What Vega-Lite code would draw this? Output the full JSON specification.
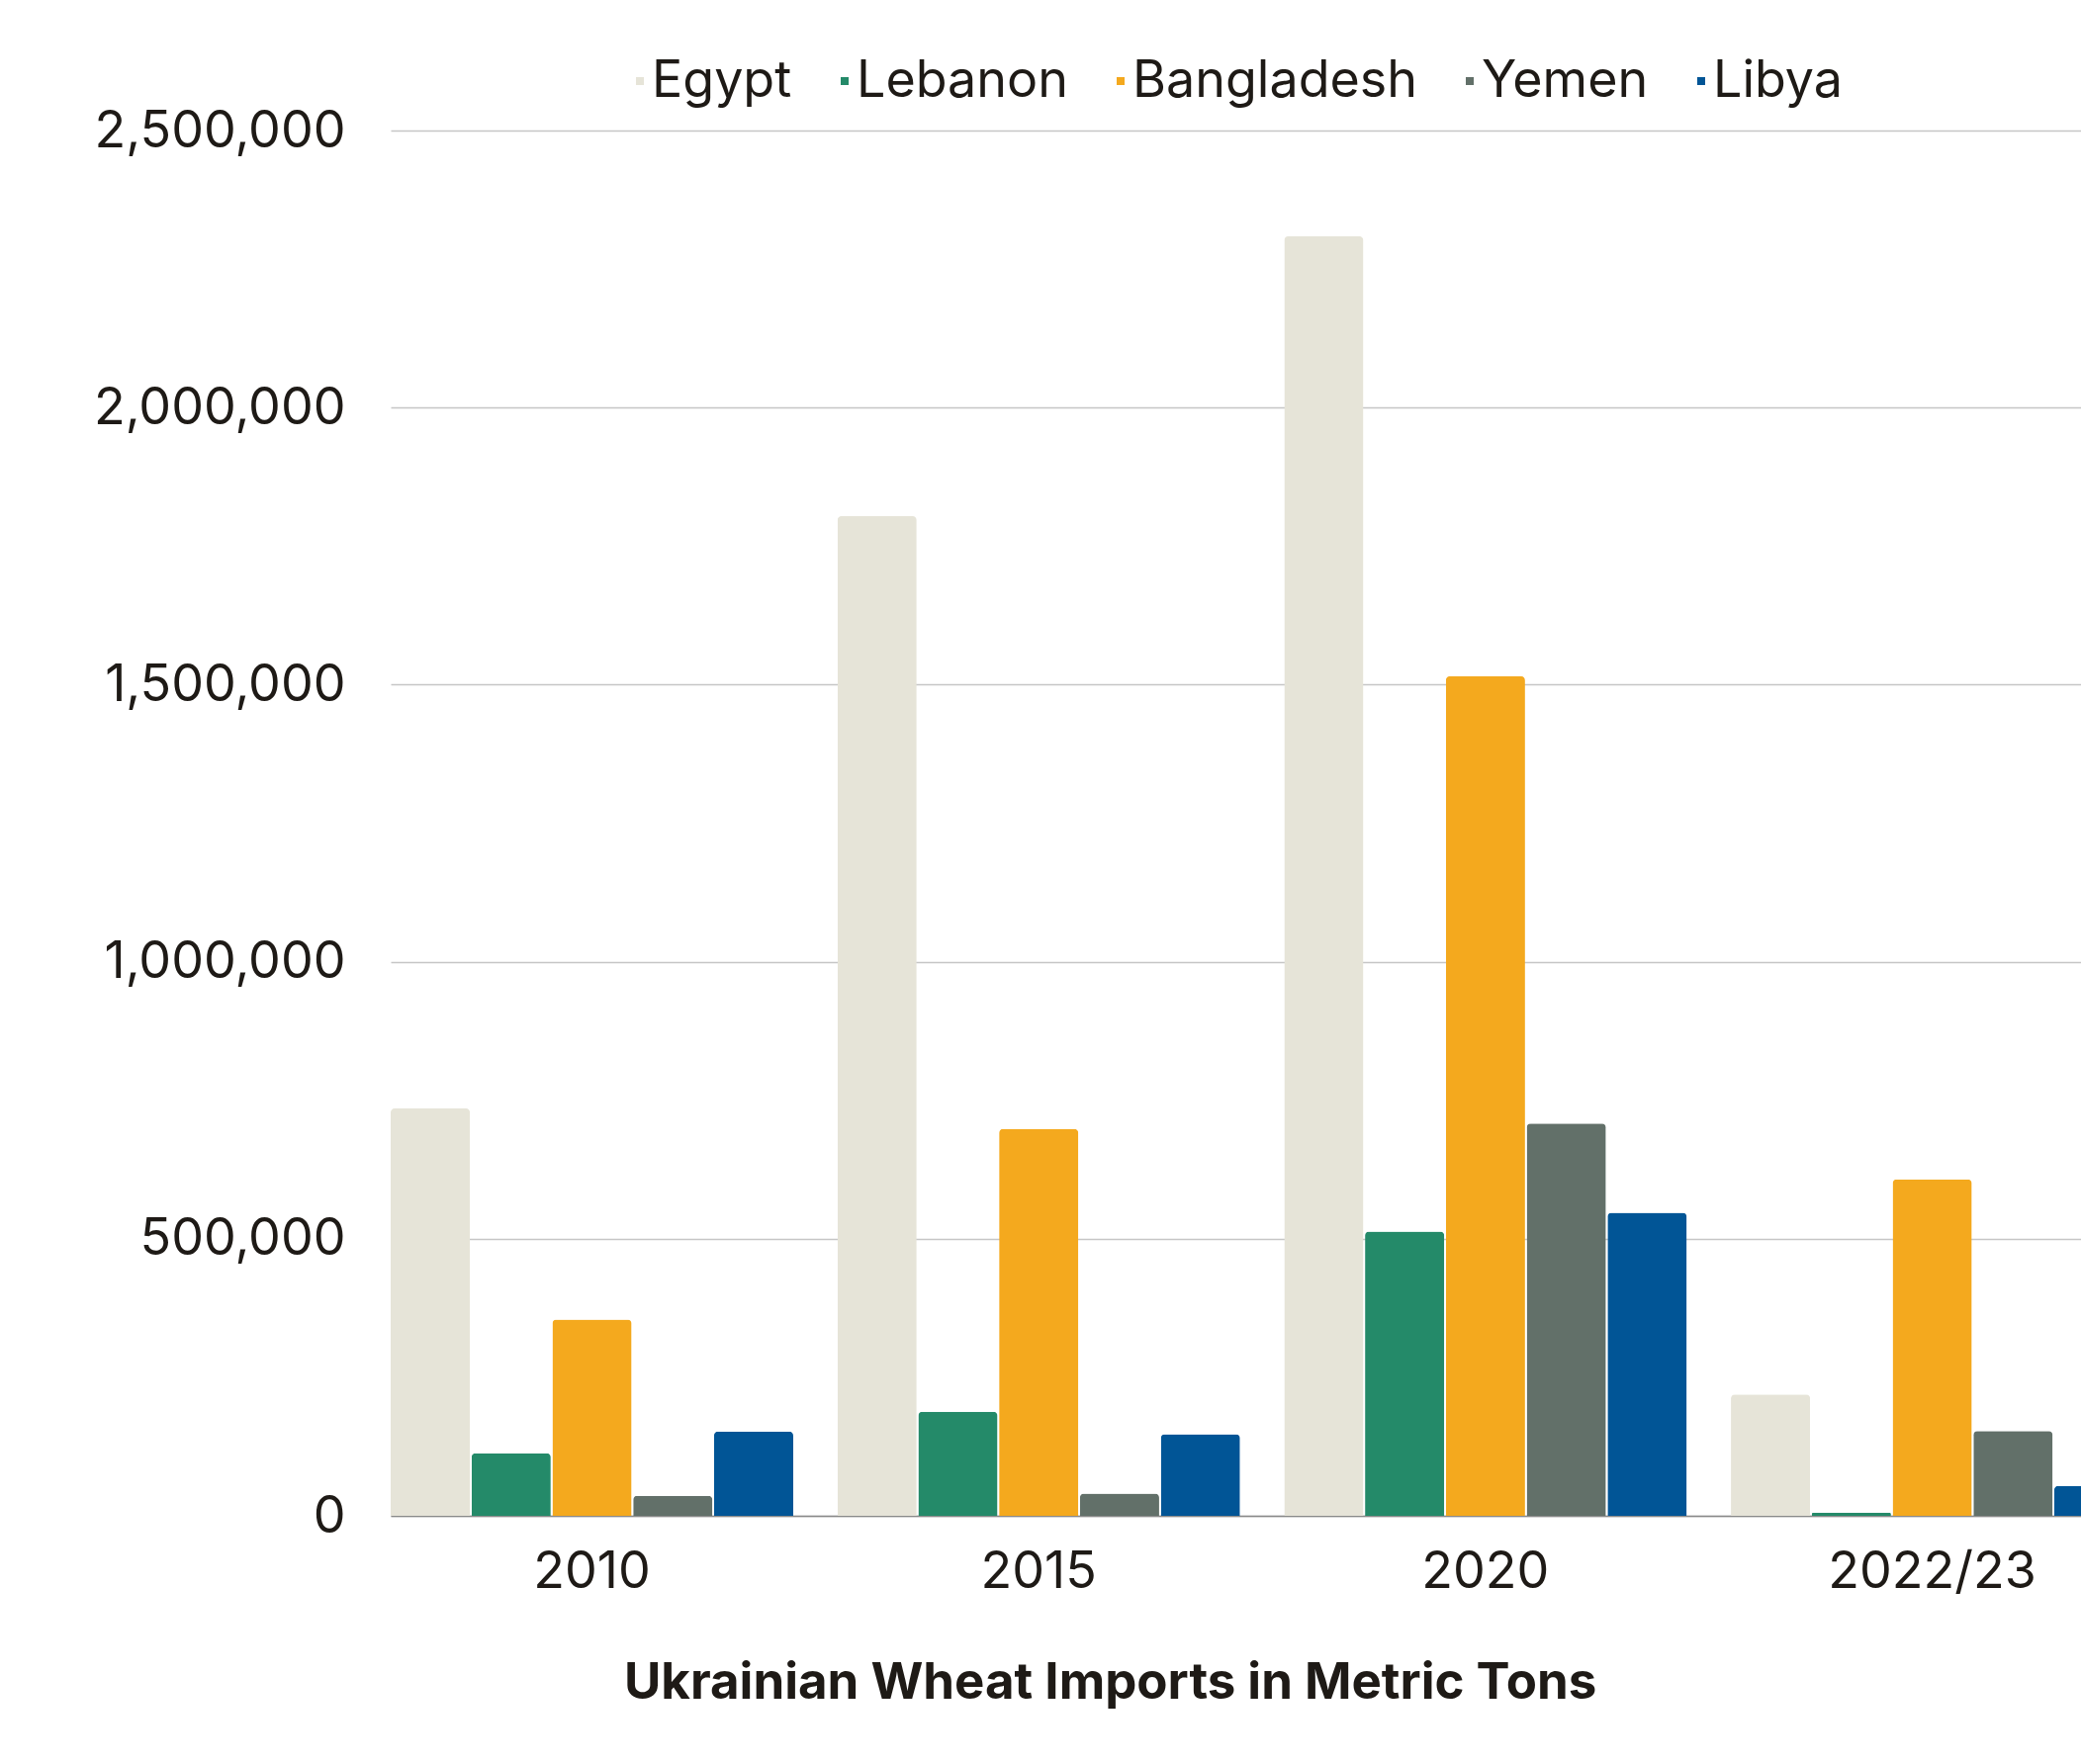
{
  "$schema": "https://vega.github.io/schema/vega-lite/v6.json",
  "width": 1709,
  "height": 1401,
  "autosize": {"type": "none"},
  "padding": {"left": 395, "top": 132, "right": 0, "bottom": 251},
  "background": "white",
  "config": {"view": {"stroke": null}, "font": "Inter"},
  "title": {
    "text": "Ukrainian Wheat Imports in Metric Tons",
    "orient": "bottom",
    "anchor": "start",
    "frame": "group",
    "dx": 236,
    "offset": 63,
    "fontSize": 51,
    "fontWeight": "bold",
    "color": "#1e1a16",
    "font": "Inter"
  },
  "data": {
    "values": [
      {"period": "2010", "country": "Egypt", "tons": 735000},
      {"period": "2010", "country": "Lebanon", "tons": 113000},
      {"period": "2010", "country": "Bangladesh", "tons": 354000},
      {"period": "2010", "country": "Yemen", "tons": 36000},
      {"period": "2010", "country": "Libya", "tons": 152000},
      {"period": "2015", "country": "Egypt", "tons": 1804000},
      {"period": "2015", "country": "Lebanon", "tons": 188000},
      {"period": "2015", "country": "Bangladesh", "tons": 698000},
      {"period": "2015", "country": "Yemen", "tons": 40000},
      {"period": "2015", "country": "Libya", "tons": 147000},
      {"period": "2020", "country": "Egypt", "tons": 2309000},
      {"period": "2020", "country": "Lebanon", "tons": 513000},
      {"period": "2020", "country": "Bangladesh", "tons": 1515000},
      {"period": "2020", "country": "Yemen", "tons": 708000},
      {"period": "2020", "country": "Libya", "tons": 547000},
      {"period": "2022/23", "country": "Egypt", "tons": 219000},
      {"period": "2022/23", "country": "Lebanon", "tons": 6000},
      {"period": "2022/23", "country": "Bangladesh", "tons": 607000},
      {"period": "2022/23", "country": "Yemen", "tons": 153000},
      {"period": "2022/23", "country": "Libya", "tons": 54000}
    ]
  },
  "mark": {"type": "bar", "cornerRadiusTopLeft": 4, "cornerRadiusTopRight": 4},
  "encoding": {
    "x": {
      "field": "period",
      "type": "nominal",
      "sort": ["2010", "2015", "2020", "2022/23"],
      "scale": {"range": [0, 1762], "paddingInner": 0.099, "paddingOuter": 0},
      "axis": {
        "title": null,
        "labelAngle": 0,
        "labelFontSize": 52,
        "labelColor": "#1e1a16",
        "labelLimit": 500,
        "ticks": false,
        "labelPadding": 31,
        "domainColor": "#8a8a8a",
        "domainWidth": 1.5,
        "grid": false
      }
    },
    "xOffset": {
      "field": "country",
      "type": "nominal",
      "sort": ["Egypt", "Lebanon", "Bangladesh", "Yemen", "Libya"],
      "scale": {"range": [0, 407], "paddingInner": 0.02, "paddingOuter": 0}
    },
    "y": {
      "field": "tons",
      "type": "quantitative",
      "scale": {"domain": [0, 2500000], "nice": false},
      "axis": {
        "title": null,
        "values": [0, 500000, 1000000, 1500000, 2000000, 2500000],
        "format": ",d",
        "labelFontSize": 52,
        "labelColor": "#1e1a16",
        "labelLimit": 500,
        "ticks": false,
        "domain": false,
        "labelPadding": 46,
        "gridColor": "#c6c6c6",
        "gridWidth": 1.5
      }
    },
    "color": {
      "field": "country",
      "type": "nominal",
      "sort": ["Egypt", "Lebanon", "Bangladesh", "Yemen", "Libya"],
      "scale": {
        "domain": ["Egypt", "Lebanon", "Bangladesh", "Yemen", "Libya"],
        "range": ["#E6E4D8", "#248A69", "#F4A91E", "#627069", "#015596"]
      },
      "legend": {
        "title": null,
        "orient": "none",
        "direction": "horizontal",
        "legendX": 226,
        "legendY": -76,
        "symbolType": "square",
        "symbolSize": 64,
        "symbolStrokeWidth": 0,
        "labelFontSize": 52,
        "labelColor": "#1e1a16",
        "labelOffset": -14,
        "columnPadding": 27,
        "labelLimit": 0
      }
    }
  }
}
